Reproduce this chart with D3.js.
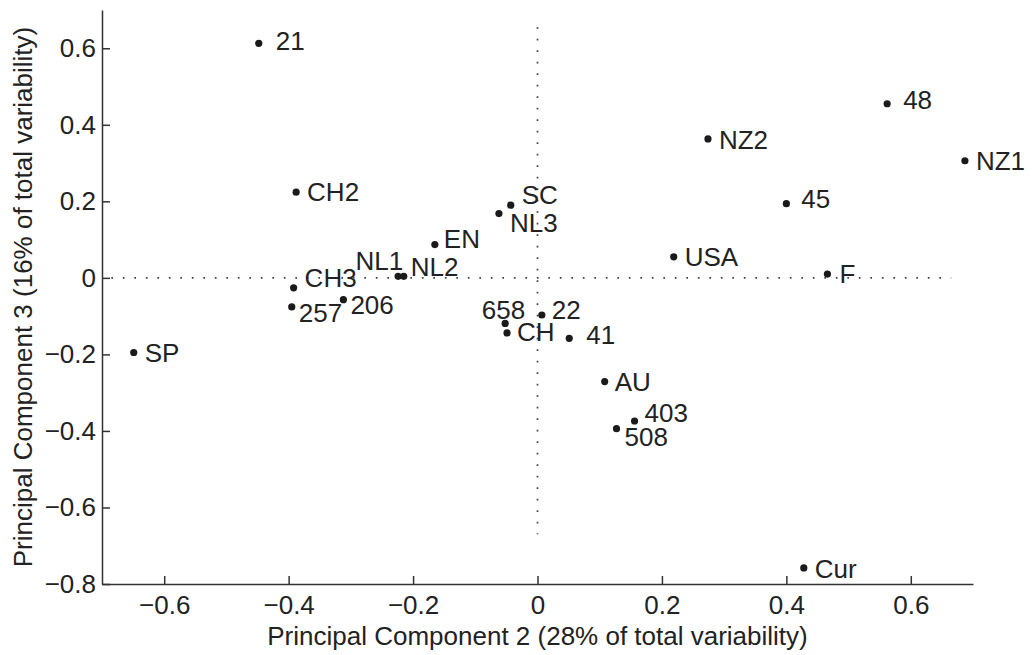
<!DOCTYPE html>
<html>
<head>
<meta charset="utf-8">
<script src="https://cdn.jsdelivr.net/npm/d3@7"></script>
<style>
  body { margin: 0; background: #fff; }
  svg text { font-family: "Liberation Sans", Arial, sans-serif; fill: #222; }
</style>
</head>
<body>
<div id="chart"></div>
<script>
// sample names and their scores on the two components
var names = ['21', 'CH2', 'CH3', '257', '206', 'NL1', 'NL2', 'EN', 'NL3', 'SC',
             '658', 'CH', '22', '41', 'AU', '403', '508', 'Cur', 'SP',
             'NZ2', '48', 'NZ1', '45', 'USA', 'F'];
var pc2 = [-0.448, -0.388, -0.392, -0.395, -0.312, -0.224, -0.215, -0.165, -0.062, -0.043,
           -0.052, -0.049, 0.007, 0.051, 0.108, 0.156, 0.127, 0.428, -0.649,
           0.274, 0.562, 0.687, 0.400, 0.219, 0.466];
var pc3 = [0.613, 0.224, -0.026, -0.076, -0.057, 0.004, 0.004, 0.087, 0.168, 0.190,
           -0.119, -0.144, -0.097, -0.158, -0.271, -0.374, -0.394, -0.758, -0.195,
           0.363, 0.455, 0.306, 0.194, 0.055, 0.010];
var xTicks = [-0.6, -0.4, -0.2, 0, 0.2, 0.4, 0.6];
var yTicks = [-0.8, -0.6, -0.4, -0.2, 0, 0.2, 0.4, 0.6];

// where each label sits relative to its dot (pixels, text baseline)
var labelNudge = {
  '21': [17, 7], 'CH2': [11, 9], 'CH3': [11, -1], '257': [7, 15], '206': [7, 14],
  'NL1': [5, -6, 'end'], 'NL2': [7, 0], 'EN': [9, 3], 'NL3': [11, 18], 'SC': [11, -1],
  '658': [20, -4, 'end'], 'CH': [10, 8], '22': [10, 4], '41': [17, 6], 'AU': [10, 9],
  '403': [10, 1], '508': [8, 17], 'Cur': [11, 10], 'SP': [11, 10],
  'NZ2': [11, 10], '48': [16, 5], 'NZ1': [11, 9], '45': [15, 4], 'USA': [11, 9], 'F': [12, 9]
};

var width = 1032, height = 655;
var margin = {top: 10, right: 59, bottom: 71, left: 102};
var fontSize = '26px';

var svg = d3.select('#chart').append('svg')
    .attr('width', width)
    .attr('height', height);

var x = d3.scaleLinear().domain([-0.7, 0.7]).range([margin.left, width - margin.right]);
var y = d3.scaleLinear().domain([-0.8, 0.7]).range([height - margin.bottom, margin.top]);

var fmt = function(d) { return d === 0 ? '0' : d3.format('.1f')(d); };

// dotted reference lines through the origin
svg.append('line')
    .attr('x1', x(-0.685)).attr('x2', x(0.665))
    .attr('y1', y(0)).attr('y2', y(0))
    .style('stroke', '#444').style('stroke-width', 1.7)
    .style('stroke-dasharray', '1.7,9.8');
svg.append('line')
    .attr('x1', x(0)).attr('x2', x(0))
    .attr('y1', y(0.655)).attr('y2', y(-0.67))
    .style('stroke', '#444').style('stroke-width', 1.7)
    .style('stroke-dasharray', '1.7,9.8');

var xAxis = svg.append('g')
    .attr('transform', 'translate(0,' + y(-0.8) + ')')
    .call(d3.axisBottom(x).tickValues(xTicks).tickFormat(fmt).tickSizeInner(-8).tickSizeOuter(0).tickPadding(12));
var yAxis = svg.append('g')
    .attr('transform', 'translate(' + x(-0.7) + ',0)')
    .call(d3.axisLeft(y).tickValues(yTicks).tickFormat(fmt).tickSizeInner(-8).tickSizeOuter(0).tickPadding(6));

[xAxis, yAxis].forEach(function(g) {
  g.select('.domain').style('stroke', '#333').style('stroke-width', 1.5);
  g.selectAll('.tick line').style('stroke', '#333').style('stroke-width', 1.5);
  g.selectAll('.tick text').style('font-size', fontSize).style('fill', '#222');
});

svg.append('text')
    .attr('x', (x(-0.7) + x(0.7)) / 2)
    .attr('y', 645)
    .attr('text-anchor', 'middle')
    .style('font-size', fontSize)
    .text('Principal Component 2 (28% of total variability)');

svg.append('text')
    .attr('transform', 'translate(32,' + (y(-0.8) + y(0.7)) / 2 + ') rotate(-90)')
    .attr('text-anchor', 'middle')
    .style('font-size', fontSize)
    .text('Principal Component 3 (16% of total variability)');

var pts = names.map(function(n, i) { return {name: n, a: pc2[i], b: pc3[i]}; });

svg.append('g').selectAll('circle')
    .data(pts)
  .enter().append('circle')
    .attr('cx', function(d) { return x(d.a); })
    .attr('cy', function(d) { return y(d.b); })
    .attr('r', 3.6)
    .style('fill', '#1a1a1a');

svg.append('g').selectAll('text')
    .data(pts)
  .enter().append('text')
    .attr('x', function(d) { return x(d.a) + labelNudge[d.name][0]; })
    .attr('y', function(d) { return y(d.b) + labelNudge[d.name][1]; })
    .attr('text-anchor', function(d) { return labelNudge[d.name][2] || 'start'; })
    .style('font-size', fontSize)
    .text(function(d) { return d.name; });
</script>
</body>
</html>
